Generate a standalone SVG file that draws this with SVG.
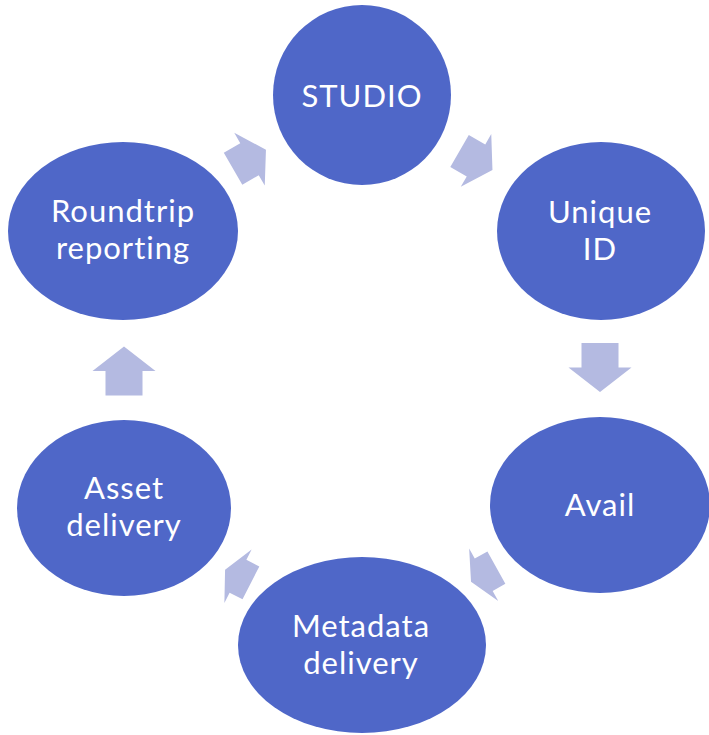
<svg xmlns="http://www.w3.org/2000/svg" width="709" height="735" viewBox="0 0 709 735">
<style>
.node{fill:#4F67C8;}
.arr{fill:#B4BAE1;}
.lbl{fill:#FFFFFF;font-family:Lato,"Open Sans","Liberation Sans",sans-serif;font-size:31px;text-anchor:middle;letter-spacing:1px;}
</style>
<rect width="709" height="735" fill="#FFFFFF"/>
<g id="connectors">
<path class="arr" transform="translate(249.5,159.2) rotate(-30)" d="M-19,-18.5 H0 V-30.5 L19,0 L0,30.5 V18.5 H-19 Z"/>
<path class="arr" transform="translate(476,160.4) rotate(30)" d="M-19,-18.5 H0 V-30.5 L19,0 L0,30.5 V18.5 H-19 Z"/>
<path class="arr" transform="translate(600,367.5) rotate(90)" d="M-24.5,-18.5 H0 V-31.5 L24.5,0 L0,31.5 V18.5 H-24.5 Z"/>
<path class="arr" transform="translate(483.7,574.7) rotate(151)" d="M-14.5,-18.5 H0 V-30 L14.5,0 L0,30 V18.5 H-14.5 Z"/>
<path class="arr" transform="translate(238,576.3) rotate(207)" d="M-14.5,-18.5 H0 V-30 L14.5,0 L0,30 V18.5 H-14.5 Z"/>
<path class="arr" transform="translate(124,371) rotate(-90)" d="M-24.5,-18.5 H0 V-31.5 L24.5,0 L0,31.5 V18.5 H-24.5 Z"/>
</g>
<g id="studio">
<ellipse class="node" cx="362" cy="95" rx="89" ry="90"/>
<text class="lbl" x="362" y="106.5">STUDIO</text>
</g>
<g id="unique-id">
<ellipse class="node" cx="601" cy="231" rx="104" ry="89"/>
<text class="lbl" x="600" y="223">Unique</text>
<text class="lbl" x="600" y="260">ID</text>
</g>
<g id="avail">
<ellipse class="node" cx="600" cy="505" rx="110" ry="88"/>
<text class="lbl" x="600" y="516">Avail</text>
</g>
<g id="metadata-delivery">
<ellipse class="node" cx="362" cy="645" rx="124" ry="88"/>
<text class="lbl" x="361" y="637" letter-spacing="2">Metadata</text>
<text class="lbl" x="361" y="674" letter-spacing="2">delivery</text>
</g>
<g id="asset-delivery">
<ellipse class="node" cx="124" cy="508" rx="107" ry="88"/>
<text class="lbl" x="124" y="499" letter-spacing="2">Asset</text>
<text class="lbl" x="124" y="536" letter-spacing="2">delivery</text>
</g>
<g id="roundtrip-reporting">
<ellipse class="node" cx="123" cy="231" rx="115" ry="89"/>
<text class="lbl" x="123" y="222">Roundtrip</text>
<text class="lbl" x="123" y="259">reporting</text>
</g>
</svg>
